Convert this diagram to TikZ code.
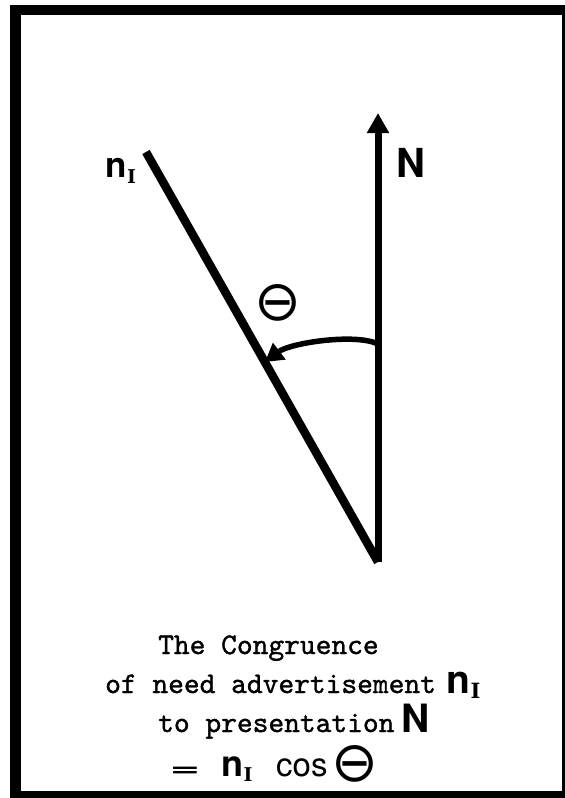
\documentclass[tikz,border=0pt]{standalone}
\usepackage{fontspec}
\setsansfont{TeX Gyre Heros}
\newfontfamily\symfont{DejaVu Sans}
\newfontfamily\slabfont{DejaVu Serif}
\newfontfamily\capfont{lmmono10-regular.otf}[FakeBold=1.2]
\usetikzlibrary{arrows.meta}
\newcommand{\nsub}[3]{{\fontsize{#1}{#1}\selectfont\sffamily\bfseries n}\kern0.5pt\raisebox{-#3pt}{\fontsize{#2}{#2}\selectfont\slabfont\bfseries I}}
\tikzset{
  txt/.style={anchor=base west, inner sep=0pt, font=\fontsize{30}{30}\selectfont\capfont},
  sym/.style={inner sep=0pt},
  rule/.style={line width=7pt},
}
\begin{document}
\begin{tikzpicture}[x=1pt,y=-1pt]
\useasboundingbox (0,0) rectangle (565,798);
\fill[white] (0,0) rectangle (565,798);
\fill[black] (10,5) rectangle (565,798);
\fill[white] (21,15) rectangle (562,791);
% geometry
\coordinate (apex) at (378,562);
\coordinate (Ntip) at (378,113);
\coordinate (ntop) at (146,152);
\coordinate (arcS) at (378,344);
\coordinate (arcE) at (265,362);
\draw[rule, -{Triangle[length=20pt,width=21pt]}] (apex) -- (Ntip);
\draw[line width=8.5pt] (apex) -- (ntop);
\draw[line width=5.5pt, -{Triangle[length=18pt,width=20pt]}] (arcS) .. controls (355,333) and (290,343) .. (arcE);
% labels
\node[anchor=base west, sym] (Nlab) at (396,177) {\fontsize{40}{40}\selectfont\sffamily\bfseries N};
\node[anchor=base west, sym] (nlab) at (105,177) {\nsub{35}{19}{6}};
\node[sym] (thlab) at (278,303) {\fontsize{56}{56}\selectfont\symfont ⊖};
% caption
\node[txt] (l1) at (158,654) {The Congruence};
\node[txt] (l2) at (105,693) {of need advertisement};
\node[anchor=base west, sym] (l2n) at (446,693) {\nsub{39}{21}{5}};
\node[txt] (l3) at (158,732) {to presentation};
\node[anchor=base west, sym] (l3N) at (401,732) {\fontsize{39}{39}\selectfont\sffamily\bfseries N};
\node[anchor=base west, sym] (eq) at (170,776) {\fontsize{30}{30}\selectfont\sffamily\bfseries\scalebox{1.7}[0.8]{=}};
\node[anchor=base west, sym] (l4n) at (221,776) {\nsub{36}{19}{5}};
\node[anchor=base west, sym] (cos) at (276,776) {\fontsize{33}{33}\selectfont\sffamily cos};
\node[sym] (l4th) at (355,764) {\fontsize{56}{56}\selectfont\symfont ⊖};
\end{tikzpicture}
\end{document}
